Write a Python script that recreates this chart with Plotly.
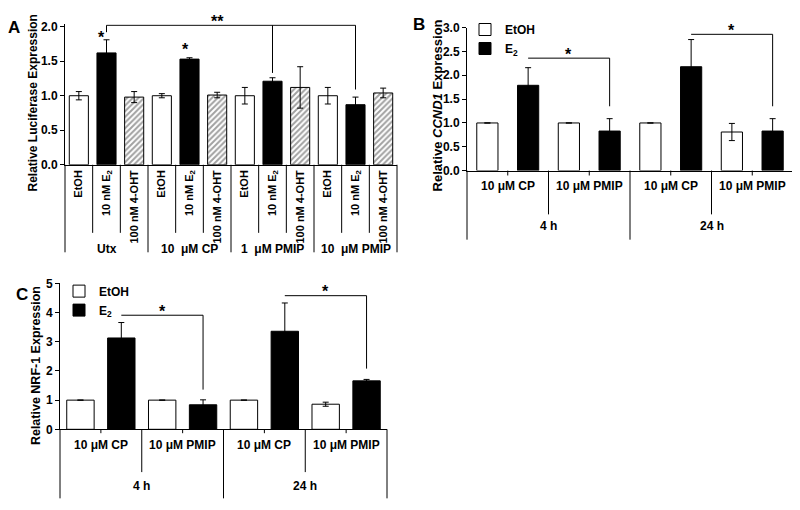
import plotly.graph_objects as go

W, H = 800, 510
OFF = 8  # the page shows the figure shifted by the default body margin
FONT = "Liberation Sans, Arial, sans-serif"

# ---------------- data ----------------
a_treat = ["EtOH", "10 nM E<sub>2</sub>", "100 nM 4-OHT"] * 4
a_kind = ["EtOH", "E2", "4-OHT"] * 4
a_groups = ["Utx", "10\u00a0 \u03bcM CP", "1\u00a0 \u03bcM PMIP", "10\u00a0 \u03bcM PMIP"]
a_vals = [1.00, 1.62, 0.98, 1.00, 1.53, 1.01, 1.00, 1.21, 1.12, 1.00, 0.87, 1.04]
a_err = [0.06, 0.19, 0.08, 0.03, 0.02, 0.04, 0.12, 0.05, 0.30, 0.12, 0.11, 0.07]

bc_conds = ["10 \u03bcM CP", "10 \u03bcM PMIP", "10 \u03bcM CP", "10 \u03bcM PMIP"]
bc_times = ["4 h", "24 h"]
b_etoh = [1.0, 1.0, 1.0, 0.81]
b_etoh_err = [0, 0, 0, 0.18]
b_e2 = [1.79, 0.83, 2.18, 0.83]
b_e2_err = [0.37, 0.26, 0.57, 0.26]

c_etoh = [1.0, 1.0, 1.0, 0.86]
c_etoh_err = [0, 0, 0, 0.07]
c_e2 = [3.13, 0.84, 3.36, 1.66]
c_e2_err = [0.53, 0.17, 0.97, 0.05]

b_sig = [(1, 3, 2.36, 1.35), (5, 7, 2.86, 1.35)]
c_sig = [(1, 3, 3.91, 1.36), (5, 7, 4.58, 2.08)]
a_sig_y = 2.02
a_sig_drops = [(1, 1.92), (7, 1.33), (10, 1.09)]

# ---------------- geometry (pixels as seen on the page) ----------------
A_X = (65, 397); A_Y = (162, 20, 2.0)
B_X = (467, 793); B_Y = (168, 21, 3.0)
C_X = (60, 387); C_Y = (434, 284, 5.0)


def px(x):
    return (x - OFF) / W


def py(y):
    return 1 - (y - OFF) / H


def xdom(p):
    return [px(p[0]), px(p[1])]


def ydom(p, top_val):
    zero, tick, tv = p
    unit = (zero - tick) / tv
    top_px = zero - top_val * unit
    return [py(zero), py(top_px)]


fig = go.Figure()

colors_a = {"EtOH": "white", "E2": "black", "4-OHT": "white"}
shapes_a = {"EtOH": "", "E2": "", "4-OHT": "/"}
a_x = list(range(len(a_vals)))
fig.add_trace(go.Bar(
    x=a_x, y=a_vals, width=0.69,
    marker=dict(color=[colors_a[k] for k in a_kind],
                line=dict(color="black", width=1),
                pattern=dict(shape=[shapes_a[k] for k in a_kind], fgcolor="black",
                             bgcolor="white", size=4, solidity=0.5)),
    error_y=dict(type="data", array=a_err, color="black", thickness=1, width=3),
    showlegend=False, xaxis="x", yaxis="y"))

b_x_et = [2 * i for i in range(len(b_etoh))]
b_x_e2 = [2 * i + 1 for i in range(len(b_e2))]
fig.add_trace(go.Bar(
    x=b_x_et, y=b_etoh, width=0.52, name="EtOH",
    marker=dict(color="white", line=dict(color="black", width=1)),
    error_y=dict(type="data", array=b_etoh_err, color="black", thickness=1, width=3),
    xaxis="x2", yaxis="y2", legend="legend"))
fig.add_trace(go.Bar(
    x=b_x_e2, y=b_e2, width=0.52, name="E<sub>2</sub>",
    marker=dict(color="black", line=dict(color="black", width=1)),
    error_y=dict(type="data", array=b_e2_err, color="black", thickness=1, width=3),
    xaxis="x2", yaxis="y2", legend="legend"))

c_x_et = [2 * i for i in range(len(c_etoh))]
c_x_e2 = [2 * i + 1 for i in range(len(c_e2))]
fig.add_trace(go.Bar(
    x=c_x_et, y=c_etoh, width=0.67, name="EtOH",
    marker=dict(color="white", line=dict(color="black", width=1)),
    error_y=dict(type="data", array=c_etoh_err, color="black", thickness=1, width=3),
    xaxis="x3", yaxis="y3", legend="legend2"))
fig.add_trace(go.Bar(
    x=c_x_e2, y=c_e2, width=0.67, name="E<sub>2</sub>",
    marker=dict(color="black", line=dict(color="black", width=1)),
    error_y=dict(type="data", array=c_e2_err, color="black", thickness=1, width=3),
    xaxis="x3", yaxis="y3", legend="legend2"))

shapes = []
annotations = []
LINE = dict(color="black", width=1)


def sep_lines(xp, n, axis_py, length_fn):
    for k in range(n + 1):
        x = xp[0] + (xp[1] - xp[0]) * k / n
        shapes.append(dict(type="line", xref="paper", yref="paper",
                           x0=px(x), x1=px(x), y0=py(axis_py), y1=py(length_fn(k)),
                           line=LINE))


nA = len(a_vals)
sep_lines(A_X, nA, A_Y[0], lambda k: 252 if k % 3 == 0 else 232)
for g, name in enumerate(a_groups):
    annotations.append(dict(x=3 * g + 1, xref="x", y=py(249), yref="paper", text=name,
                            yanchor="middle", showarrow=False,
                            font=dict(size=12, family=FONT, weight="bold", color="black")))

nB = len(b_etoh) + len(b_e2)
sep_lines(B_X, nB, B_Y[0], lambda k: 239 if k % 4 == 0 else (213 if k % 2 == 0 else 173))
nC = len(c_etoh) + len(c_e2)
sep_lines(C_X, nC, C_Y[0], lambda k: 505 if k % 4 == 0 else (478 if k % 2 == 0 else 438))

for xr, cond_y, time_y in (("x2", 184, 225), ("x3", 450, 492)):
    for i, c in enumerate(bc_conds):
        annotations.append(dict(x=2 * i + 0.5, xref=xr, y=py(cond_y), yref="paper", text=c,
                                yanchor="middle", showarrow=False,
                                font=dict(size=12, family=FONT, weight="bold", color="black")))
    for j, t in enumerate(bc_times):
        annotations.append(dict(x=4 * j + 1.5, xref=xr, y=py(time_y), yref="paper", text=t,
                                yanchor="middle", showarrow=False,
                                font=dict(size=12, family=FONT, weight="bold", color="black")))


def bline(xr, yr, x0, y0, x1, y1):
    shapes.append(dict(type="line", xref=xr, yref=yr, x0=x0, y0=y0, x1=x1, y1=y1, line=LINE))


def star(xr, yr, x, y, text="*", shift=4, xshift=0):
    annotations.append(dict(x=x, xref=xr, y=y, yref=yr, text=text, showarrow=False,
                            yanchor="middle", yshift=shift, xshift=xshift,
                            font=dict(size=16, family=FONT, weight="bold", color="black")))


bline("x", "y", a_sig_drops[0][0], a_sig_y, a_sig_drops[-1][0], a_sig_y)
for xx, yd in a_sig_drops:
    bline("x", "y", xx, a_sig_y, xx, yd)
star("x", "y", 5.0, a_sig_y, "**", shift=4)
star("x", "y", 1, a_vals[1] + a_err[1], shift=2, xshift=-5)
star("x", "y", 4, a_vals[4] + a_err[4], shift=8, xshift=-4)

for (x0, x1, yb, yd) in b_sig:
    bline("x2", "y2", x0, yb, x1, yb)
    bline("x2", "y2", x1, yb, x1, yd)
    star("x2", "y2", (x0 + x1) / 2, yb, shift=4)
for (x0, x1, yb, yd) in c_sig:
    bline("x3", "y3", x0, yb, x1, yb)
    bline("x3", "y3", x1, yb, x1, yd)
    star("x3", "y3", (x0 + x1) / 2, yb, shift=4)

for text, x, y, fs in (("Relative Luciferase Expression", 33, 99, 12),
                       ("Relative <i>CCND1</i> Expression", 437, 101, 13),
                       ("Relative NRF-1 Expression", 36, 369, 12.5)):
    annotations.append(dict(x=px(x), y=py(y), xref="paper", yref="paper", text=text,
                            textangle=-90, showarrow=False, xanchor="center", yanchor="middle",
                            font=dict(size=fs, family=FONT, weight="bold", color="black")))
for text, x, y in (("A", 14, 21), ("B", 419, 18), ("C", 22, 295)):
    annotations.append(dict(x=px(x), y=py(y), xref="paper", yref="paper", text=text,
                            showarrow=False, xanchor="center", yanchor="middle",
                            font=dict(size=17, family=FONT, weight="bold", color="black")))

xcommon = dict(showline=True, linecolor="black", linewidth=1, ticks="",
               showgrid=False, zeroline=False)
ycommon = dict(showline=True, linecolor="black", linewidth=1, ticks="outside", ticklen=4,
               tickcolor="black", tickwidth=1, showgrid=False, zeroline=False,
               tickfont=dict(size=12, family=FONT, weight="bold", color="black"))

fig.update_layout(
    width=W, height=H, margin=dict(l=0, r=0, t=0, b=0),
    paper_bgcolor="white", plot_bgcolor="white",
    barmode="overlay",
    font=dict(family=FONT, color="black"),
    xaxis=dict(domain=xdom(A_X), range=[-0.5, nA - 0.5], anchor="y",
               tickmode="array", tickvals=a_x, ticktext=a_treat, tickangle=-90,
               showticklabels=True,
               tickfont=dict(size=11, family=FONT, weight="bold", color="black"), **xcommon),
    yaxis=dict(domain=ydom(A_Y, 2.035), range=[0, 2.035], dtick=0.5, tickformat=".1f",
               anchor="x", **ycommon),
    xaxis2=dict(domain=xdom(B_X), range=[-0.5, nB - 0.5], anchor="y2",
                showticklabels=False, **xcommon),
    yaxis2=dict(domain=ydom(B_Y, 3.0), range=[0, 3.0], dtick=0.5, tickformat=".1f",
                anchor="x2", **ycommon),
    xaxis3=dict(domain=xdom(C_X), range=[-0.5, nC - 0.5], anchor="y3",
                showticklabels=False, **xcommon),
    yaxis3=dict(domain=ydom(C_Y, 5.0), range=[0, 5.0], dtick=1, anchor="x3", **ycommon),
    legend=dict(x=px(465), y=min(1.0, py(6)), xanchor="left", yanchor="top",
                bgcolor="rgba(0,0,0,0)",
                font=dict(size=12, family=FONT, weight="bold", color="black"),
                itemwidth=30, tracegroupgap=0),
    legend2=dict(x=px(59), y=py(277), xanchor="left", yanchor="top", bgcolor="rgba(0,0,0,0)",
                 font=dict(size=12, family=FONT, weight="bold", color="black"),
                 itemwidth=30, tracegroupgap=0),
    shapes=shapes, annotations=annotations,
)

fig.write_html("out.html")
